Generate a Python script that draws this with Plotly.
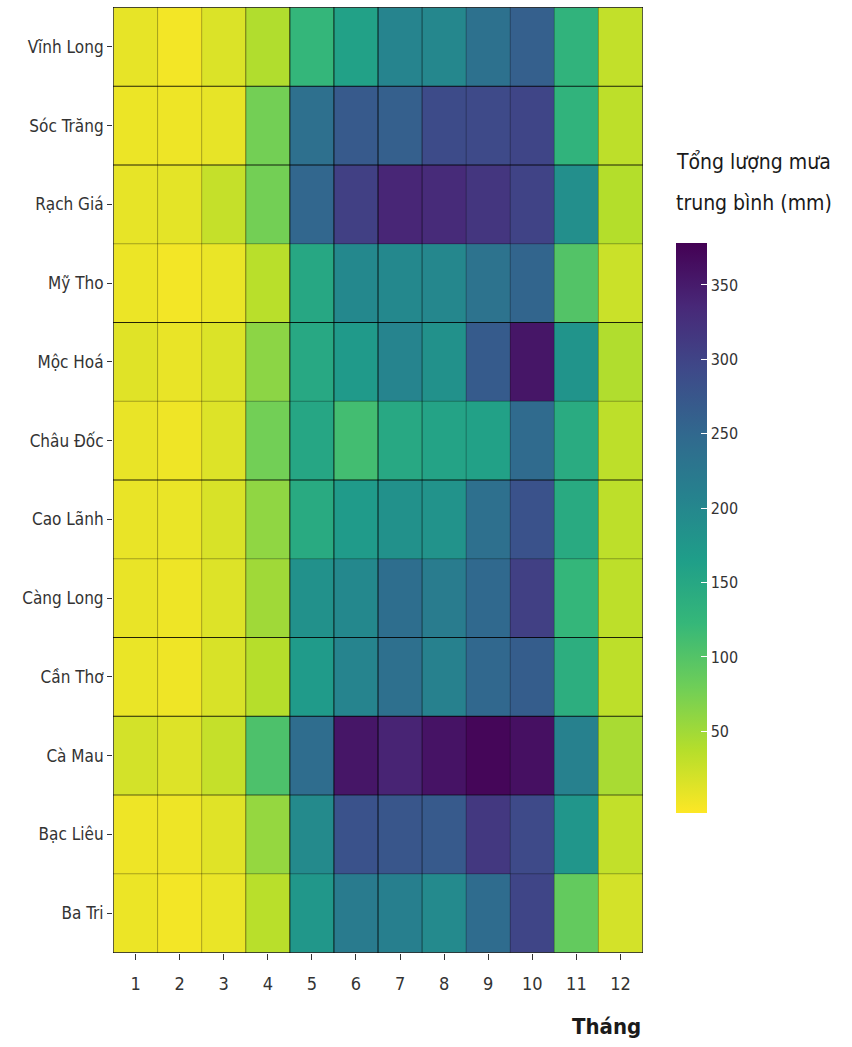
import plotly.graph_objects as go

# Monthly mean rainfall (mm) for Mekong Delta stations
months = [str(m) for m in range(1, 13)]

# stations listed bottom-to-top
stations = ["Ba Tri", "Bạc Liêu", "Cà Mau", "Cần Thơ", "Càng Long", "Cao Lãnh",
            "Châu Đốc", "Mộc Hoá", "Mỹ Tho", "Rạch Giá", "Sóc Trăng", "Vĩnh Long"]

ba_tri    = [5, 1, 6, 35, 176, 220, 212, 196, 243, 298, 88, 20]
bac_lieu  = [4, 4, 12, 57, 195, 280, 275, 270, 315, 292, 178, 30]
ca_mau    = [20, 14, 28, 105, 242, 355, 340, 358, 372, 362, 210, 45]
can_tho   = [6, 3, 17, 37, 170, 205, 238, 210, 250, 265, 138, 33]
cang_long = [7, 4, 14, 50, 185, 198, 240, 218, 248, 305, 125, 33]
cao_lanh  = [7, 6, 17, 60, 145, 170, 185, 182, 238, 280, 145, 33]
chau_doc  = [7, 3, 14, 78, 152, 112, 148, 156, 160, 245, 143, 33]
moc_hoa   = [12, 7, 15, 62, 148, 172, 205, 185, 268, 355, 180, 40]
my_tho    = [5, 1, 6, 35, 150, 198, 198, 200, 233, 255, 100, 25]
rach_gia  = [8, 10, 28, 77, 252, 305, 338, 332, 318, 300, 188, 38]
soc_trang = [5, 4, 8, 77, 238, 270, 262, 290, 292, 298, 130, 33]
vinh_long = [8, 1, 15, 40, 125, 160, 205, 200, 235, 262, 130, 30]

rain = [ba_tri, bac_lieu, ca_mau, can_tho, cang_long, cao_lanh,
        chau_doc, moc_hoa, my_tho, rach_gia, soc_trang, vinh_long]

cbar_ticks = [50, 100, 150, 200, 250, 300, 350]
legend_title = ["Tổng lượng mưa", "trung bình (mm)"]

FONT = "DejaVu Sans Condensed, Liberation Sans Narrow, Arial Narrow, Liberation Sans, sans-serif"

fig = go.Figure(go.Heatmap(
    x=months, y=stations, z=rain,
    colorscale="Viridis", reversescale=True,
    zmin=-5, zmax=378,
    colorbar=dict(
        thickness=31, thicknessmode="pixels",
        len=570, lenmode="pixels",
        x=1.0623, xanchor="left", xpad=0,
        y=0.449, yanchor="middle", ypad=0,
        outlinewidth=0,
        tickvals=cbar_ticks, ticks="inside", ticklen=6, tickcolor="white",
        tickwidth=1,
        tickfont=dict(family=FONT, size=16, color="#333333"),
    ),
    hovertemplate="%{y} – tháng %{x}: %{z} mm<extra></extra>",
))

# tile outlines: faint everywhere, some boundaries heavier
shapes = []
n_x, n_y = len(months), len(stations)
strong_x = {4, 5, 6}
mid_x = {3, 7}
strong_y = {3, 4, 6, 8, 10, 11}
mid_y = {2}
for i in range(n_x + 1):
    xv = i - 0.5
    a = 0.85 if i in strong_x else (0.5 if i in mid_x else 0.3)
    if i in (0, n_x):
        a = 0.6
    shapes.append(dict(type="line", xref="x", yref="paper", x0=xv, x1=xv, y0=0, y1=1,
                       line=dict(color=f"rgba(0,0,0,{a})", width=1)))
for j in range(n_y + 1):
    yv = j - 0.5
    a = 0.85 if j in strong_y else (0.6 if j in mid_y else 0.3)
    if j in (0, n_y):
        a = 0.7
    shapes.append(dict(type="line", xref="paper", yref="y", x0=0, x1=1, y0=yv, y1=yv,
                       line=dict(color=f"rgba(0,0,0,{a})", width=1)))

annotations = [dict(
    text="<b>Tháng</b>", xref="paper", yref="paper", x=1, y=-0.078,
    xanchor="right", yanchor="middle", showarrow=False,
    font=dict(family=FONT, size=22, color="#1a1a1a"),
)]
for k, line in enumerate(legend_title):
    annotations.append(dict(
        text=line, xref="paper", yref="paper", x=1.0585, y=0.836 - 0.043 * k,
        xanchor="left", yanchor="middle", showarrow=False,
        font=dict(family=FONT, size=21, color="#1a1a1a"),
    ))

fig.update_layout(
    width=852, height=1047,
    margin=dict(l=113, r=209, t=7, b=94),
    paper_bgcolor="white", plot_bgcolor="white",
    font=dict(family=FONT, color="#333333"),
    shapes=shapes,
    xaxis=dict(
        type="category", ticks="outside", ticklen=6, tickcolor="#333333",
        ticklabelstandoff=8,
        tickfont=dict(family=FONT, size=18, color="#333333"),
        showgrid=False, zeroline=False, showline=False,
    ),
    yaxis=dict(
        type="category", ticks="outside", ticklen=5, tickcolor="#333333",
        tickfont=dict(family=FONT, size=17, color="#333333"),
        showgrid=False, zeroline=False, showline=False,
    ),
    annotations=annotations,
)

fig.write_html("out.html")
